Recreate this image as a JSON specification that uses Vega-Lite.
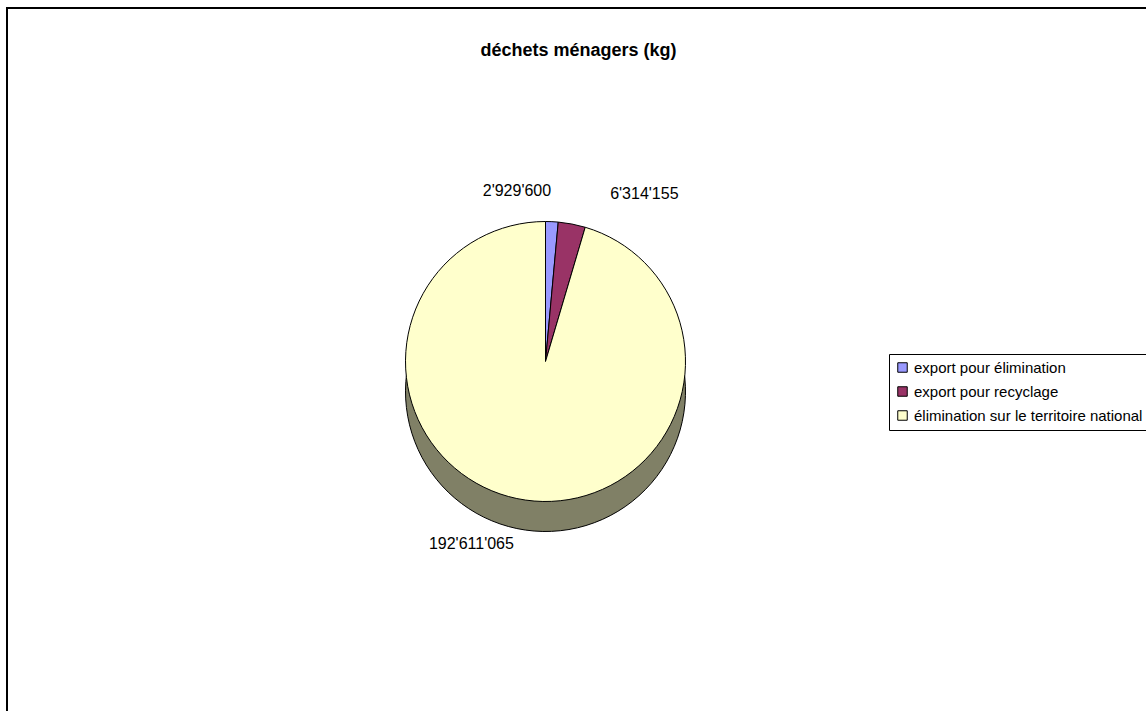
{
  "$schema": "https://vega.github.io/schema/vega-lite/v6.json",
  "width": 1150,
  "height": 715,
  "autosize": {"type": "fit", "contains": "padding"},
  "padding": {"left": 7, "top": 8, "right": 0, "bottom": 0},
  "background": "white",
  "view": {"stroke": "black", "strokeWidth": 2, "fill": "white"},
  "title": {
    "text": "déchets ménagers (kg)",
    "font": "Liberation Sans",
    "fontSize": 18,
    "fontWeight": "bold",
    "color": "black",
    "anchor": "middle",
    "offset": -52
  },
  "data": {
    "values": [
      {"categorie": "export pour élimination", "kg": 2929600},
      {"categorie": "export pour recyclage", "kg": 6314155},
      {"categorie": "élimination sur le territoire national", "kg": 192611065}
    ]
  },
  "layer": [
    {
      "mark": {"type": "arc", "outerRadius": 140, "xOffset": -33, "yOffset": 30, "stroke": "black", "strokeWidth": 1},
      "encoding": {
        "theta": {"field": "kg", "type": "quantitative", "stack": true},
        "order": {"field": "kg", "type": "quantitative", "sort": "ascending"},
        "color": {
          "field": "categorie",
          "type": "nominal",
          "legend": null,
          "scale": {
            "domain": ["export pour élimination", "export pour recyclage", "élimination sur le territoire national"],
            "range": ["#4C4C80", "#4D1A33", "#808066"]
          }
        }
      }
    },
    {
      "mark": {"type": "arc", "outerRadius": 140, "xOffset": -33, "stroke": "black", "strokeWidth": 1},
      "encoding": {
        "theta": {"field": "kg", "type": "quantitative", "stack": true},
        "order": {"field": "kg", "type": "quantitative", "sort": "ascending"},
        "color": {
          "field": "categorie",
          "type": "nominal",
          "scale": {
            "domain": ["export pour élimination", "export pour recyclage", "élimination sur le territoire national"],
            "range": ["#9999FF", "#993366", "#FFFFCC"]
          },
          "legend": {
            "title": null,
            "orient": "none",
            "legendX": 882,
            "legendY": 346,
            "symbolType": "square",
            "symbolSize": 90,
            "symbolStrokeColor": "black",
            "symbolStrokeWidth": 1,
            "labelFont": "Liberation Sans",
            "labelFontSize": 15,
            "labelColor": "black",
            "labelOffset": 4,
            "labelLimit": 400,
            "rowPadding": 8,
            "padding": 6,
            "strokeColor": "black",
            "fillColor": "white"
          }
        }
      }
    },
    {
      "mark": {
        "type": "text",
        "font": "Liberation Sans",
        "fontSize": 16,
        "color": "black",
        "radius": 168,
        "xOffset": -33,
        "align": {"expr": "datum.categorie == 'export pour élimination' ? 'right' : datum.categorie == 'export pour recyclage' ? 'left' : 'center'"},
        "dx": {"expr": "datum.categorie == 'export pour élimination' ? -2 : datum.categorie == 'export pour recyclage' ? 33 : -50"},
        "dy": {"expr": "datum.categorie == 'élimination sur le territoire national' ? 16 : -3"}
      },
      "encoding": {
        "theta": {"field": "kg", "type": "quantitative", "stack": true},
        "order": {"field": "kg", "type": "quantitative", "sort": "ascending"},
        "text": {"field": "kg", "type": "quantitative", "format": ","}
      }
    }
  ],
  "resolve": {"scale": {"color": "independent"}},
  "config": {
    "locale": {
      "number": {"decimal": ".", "thousands": "'", "grouping": [3], "currency": ["", ""]}
    }
  }
}
